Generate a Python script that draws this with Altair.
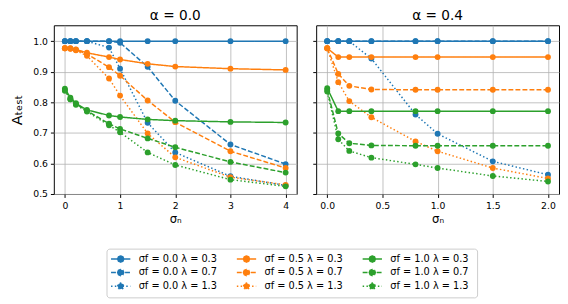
import altair as alt
import pandas as pd

# ---------------- data ----------------
sigma_n_a00 = [0, 0.1, 0.2, 0.4, 0.8, 1.0, 1.5, 2.0, 3.0, 4.0]
sigma_n_a04 = [0, 0.1, 0.2, 0.4, 0.8, 1.0, 1.5, 2.0]

# alpha = 0.0
a00_sf00_l03 = [1.0, 1.0, 1.0, 1.0, 1.0, 1.0, 1.0, 1.0, 1.0, 1.0]
a00_sf00_l07 = [1.0, 1.0, 1.0, 1.0, 1.0, 0.995, 0.916, 0.805, 0.662, 0.598]
a00_sf00_l13 = [1.0, 1.0, 1.0, 1.0, 0.979, 0.91, 0.733, 0.636, 0.558, 0.528]
a00_sf05_l03 = [0.977, 0.977, 0.973, 0.962, 0.948, 0.94, 0.926, 0.917, 0.91, 0.906]
a00_sf05_l07 = [0.977, 0.976, 0.972, 0.958, 0.915, 0.887, 0.806, 0.735, 0.64, 0.585]
a00_sf05_l13 = [0.977, 0.975, 0.97, 0.952, 0.878, 0.822, 0.698, 0.62, 0.555, 0.53]
a00_sf10_l03 = [0.845, 0.815, 0.797, 0.775, 0.757, 0.752, 0.744, 0.74, 0.736, 0.734]
a00_sf10_l07 = [0.84, 0.81, 0.795, 0.772, 0.73, 0.713, 0.682, 0.653, 0.605, 0.57]
a00_sf10_l13 = [0.838, 0.81, 0.792, 0.77, 0.725, 0.702, 0.636, 0.595, 0.547, 0.525]

# alpha = 0.4
a04_sf00_l03 = [1.0, 1.0, 1.0, 1.0, 1.0, 1.0, 1.0, 1.0]
a04_sf00_l07 = [1.0, 1.0, 1.0, 1.0, 1.0, 1.0, 1.0, 1.0]
a04_sf00_l13 = [1.0, 1.0, 1.0, 0.943, 0.76, 0.697, 0.607, 0.563]
a04_sf05_l03 = [0.977, 0.948, 0.948, 0.948, 0.948, 0.948, 0.948, 0.948]
a04_sf05_l07 = [0.977, 0.893, 0.854, 0.842, 0.841, 0.841, 0.841, 0.841]
a04_sf05_l13 = [0.977, 0.866, 0.804, 0.751, 0.672, 0.64, 0.585, 0.551]
a04_sf10_l03 = [0.846, 0.771, 0.771, 0.771, 0.771, 0.771, 0.771, 0.771]
a04_sf10_l07 = [0.84, 0.698, 0.666, 0.659, 0.658, 0.658, 0.658, 0.658]
a04_sf10_l13 = [0.835, 0.679, 0.641, 0.619, 0.597, 0.585, 0.559, 0.541]

sigma_f_values = ["0.0", "0.5", "1.0"]
lambda_values = ["0.3", "0.7", "1.3"]
colors = ["#1f77b4", "#ff7f0e", "#2ca02c"]
dashes = [[1, 0], [5, 2.2], [1.5, 2.4]]

panels = {
    "0.0": (sigma_n_a00, [[a00_sf00_l03, a00_sf00_l07, a00_sf00_l13],
                          [a00_sf05_l03, a00_sf05_l07, a00_sf05_l13],
                          [a00_sf10_l03, a00_sf10_l07, a00_sf10_l13]]),
    "0.4": (sigma_n_a04, [[a04_sf00_l03, a04_sf00_l07, a04_sf00_l13],
                          [a04_sf05_l03, a04_sf05_l07, a04_sf05_l13],
                          [a04_sf10_l03, a04_sf10_l07, a04_sf10_l13]]),
}

def label(sf, lam):
    return f"σf = {sf}  λ = {lam}"

rows = []
for alpha, (xs, grid) in panels.items():
    for i, sf in enumerate(sigma_f_values):
        for j, lam in enumerate(lambda_values):
            for x, y in zip(xs, grid[i][j]):
                rows.append({"alpha": alpha, "sn": x, "acc": y,
                             "series": label(sf, lam), "ord": i * 3 + j})
df = pd.DataFrame(rows)

# legend fills column-wise: each column is one sigma_f
domain, c_range, d_range = [], [], []
for i, sf in enumerate(sigma_f_values):
    for j, lam in enumerate(lambda_values):
        domain.append(label(sf, lam))
        c_range.append(colors[i])
        d_range.append(dashes[j])

legend_symbol = ("M-1.3,0H3.1M0.2,0L0.4,-0.5L0.9,-0.7L1.4,-0.5L1.6,0"
                 "L1.4,0.5L0.9,0.7L0.4,0.5Z")

legend = alt.Legend(title=None, titlePadding=0, titleFontSize=0,
                    columns=3, orient="none",
                    legendX=54, legendY=229,
                    symbolType=legend_symbol, symbolSize=81,
                    symbolStrokeWidth=1.5, labelOffset=17,
                    labelFontSize=10, columnPadding=13,
                    rowPadding=1, padding=5,
                    strokeColor="#cccccc", cornerRadius=3,
                    fillColor="white")

def panel(alpha, xdom, xvals, xfmt, show_y):
    d = df[df["alpha"] == alpha]
    yaxis = alt.Axis(values=[0.5, 0.6, 0.7, 0.8, 0.9, 1.0], format=".1f",
                     title="Aₜₑₛₜ" if show_y else None, labels=show_y,
                     titleFontSize=15, titleFontWeight="normal", titlePadding=9)
    base = alt.Chart(d).encode(
        x=alt.X("sn:Q", scale=alt.Scale(domain=xdom, nice=False, zero=False),
                axis=alt.Axis(values=xvals, format=xfmt, title="σₙ")),
        y=alt.Y("acc:Q", scale=alt.Scale(domain=[0.5, 1.052], nice=False, zero=False),
                axis=yaxis),
        color=alt.Color("series:N", scale=alt.Scale(domain=domain, range=c_range),
                        legend=legend),
        strokeDash=alt.StrokeDash("series:N", scale=alt.Scale(domain=domain, range=d_range),
                                  legend=None),
        order=alt.Order("ord:Q"),
    )
    lines = base.mark_line(strokeWidth=1.5)
    pts = base.mark_circle(size=36, opacity=1)
    return alt.layer(lines, pts).properties(
        width=249, height=173,
        title=alt.Title(f"α = {alpha}", fontSize=14, fontWeight="normal", offset=2),
    )

left = panel("0.0", [-0.2, 4.2], [0, 1, 2, 3, 4], "d", True)
right = panel("0.4", [-0.1, 2.1], [0.0, 0.5, 1.0, 1.5, 2.0], ".1f", False)

chart = alt.hconcat(left, right, spacing=14).properties(
    padding={"left": 0, "top": -3, "right": 0, "bottom": 0}
).configure_view(
    stroke="black", strokeWidth=1
).configure_axis(
    grid=True, gridColor="#b0b0b0", gridWidth=0.8, domain=False,
    tickColor="black", tickSize=3.5, labelColor="black", labelFontSize=9.5,
    labelPadding=3,
    titleColor="black", titleFontSize=12, titleFontWeight="normal", labelFont="DejaVu Sans",
    titleFont="DejaVu Sans",
).configure_title(font="DejaVu Sans", color="black").configure_legend(
    labelFont="DejaVu Sans", labelColor="black"
)

chart.save("out.html", embed_options={"renderer": "svg", "actions": False})
